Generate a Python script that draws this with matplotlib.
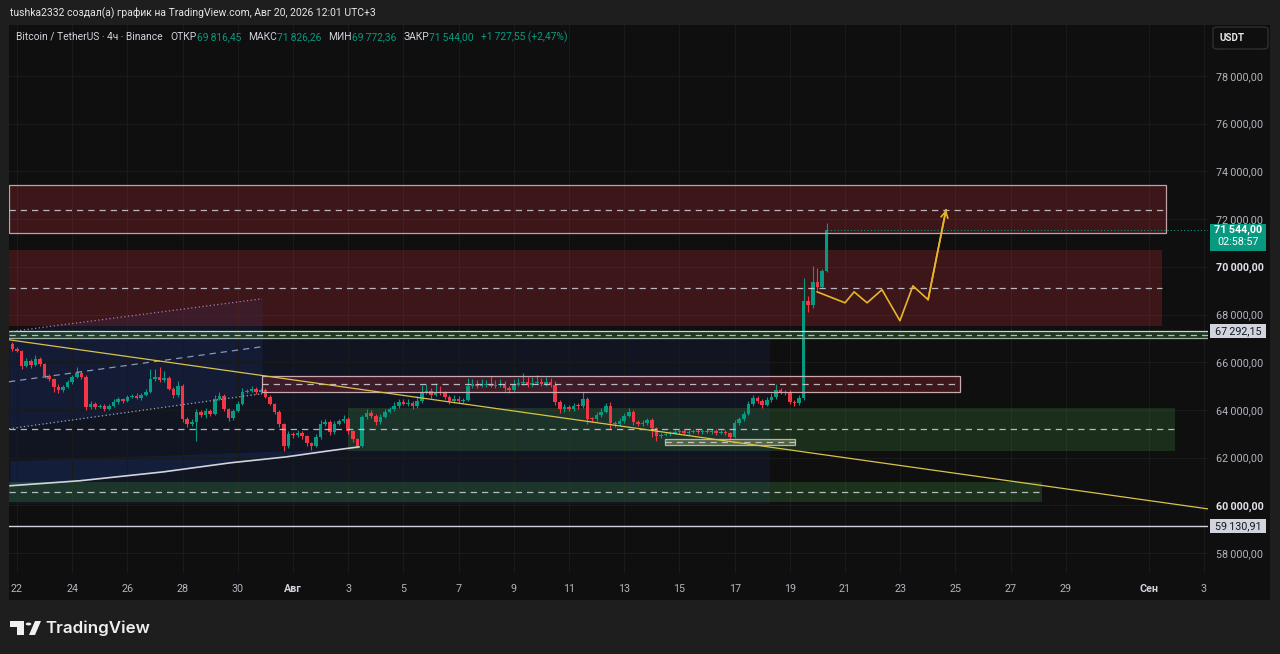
import matplotlib
matplotlib.use("Agg")
import matplotlib.pyplot as plt
import matplotlib.transforms as mtransforms
from matplotlib import font_manager
from matplotlib.patches import Rectangle, Polygon, Circle, FancyBboxPatch
import numpy as np

# ---- candles: BTC/USDT 4h, day 0 = Jul 22 00:00 ---------------------------
first_open = 66770
closes = [
    66560, 66480, 65850, 66060, 65890, 66140, 65930, 65430, 65300, 64970,
    64840, 64970, 65180, 65390, 65560, 65390, 64130, 64260, 64130, 64170,
    64050, 64170, 64340, 64470, 64380, 64550, 64590, 64510, 64630, 64760,
    65300, 65390, 65260, 65350, 64880, 64630, 65010, 63630, 63420, 63500,
    63920, 63790, 63960, 63840, 64470, 64590, 64050, 63670, 63960, 64260,
    64760, 64800, 64880, 64760, 64840, 64550, 64260, 63920, 63420, 62490,
    63000, 62960, 63040, 62910, 62620, 62490, 62870, 63420, 63500, 63080,
    63420, 63540, 63630, 63120, 62790, 62490, 63710, 63880, 63750, 63500,
    63710, 63920, 64050, 64170, 64340, 64260, 64300, 64170, 64380, 64760,
    64800, 64630, 64760, 64720, 64550, 64380, 64470, 64380, 64420, 65010,
    65090, 65010, 65050, 65090, 65010, 65050, 65090, 64930, 64840, 65050,
    65140, 65180, 65050, 65140, 65180, 65090, 65180, 65050, 64340, 64050,
    64130, 64050, 64170, 64150, 64470, 63630, 63610, 63790, 63920, 64170,
    63460, 63420, 63540, 63750, 63920, 63500, 63420, 63460, 63580, 63250,
    62910, 62960, 63000, 63040, 63080, 63120, 63040, 63080, 63120, 63080,
    63120, 63080, 63120, 63040, 63080, 63040, 62870, 63460, 63630, 63840,
    64260, 64510, 64380, 64210, 64420, 64550, 64840, 64720, 64760, 64340,
    64300, 64510, 68570, 68410, 69370, 69160, 69816.45, 71544.00,
]
hi_wick = [
    60, 90, 40, 120, 80, 150, 60, 50, 90, 40, 110, 70, 60, 90, 250, 60, 80, 120, 70, 60,
    90, 60, 110, 80, 50, 90, 60, 100, 70, 120, 420, 330, 400, 300, 90, 60, 200, 80, 60, 100,
    130, 80, 120, 60, 150, 180, 70, 50, 90, 110, 140, 90, 120, 70, 80, 60, 90, 50, 70, 40,
    120, 80, 110, 60, 50, 40, 100, 150, 120, 60, 110, 90, 140, 60, 50, 40, 90, 160, 120, 70,
    110, 130, 90, 150, 120, 100, 140, 80, 200, 300, 280, 120, 350, 260, 80, 90, 140, 110, 100, 330,
    200, 180, 260, 150, 320, 210, 190, 120, 90, 250, 200, 350, 180, 240, 300, 170, 220, 160, 150, 60,
    120, 80, 140, 110, 300, 60, 90, 120, 150, 130, 150, 90, 120, 100, 160, 70, 80, 110, 90, 60,
    50, 80, 60, 90, 70, 100, 60, 80, 90, 70, 60, 80, 100, 70, 90, 60, 50, 120, 90, 110,
    100, 100, 80, 60, 120, 150, 250, 90, 80, 60, 90, 110, 970, 200, 670, 600, 100, 282,
]
lo_wick = [
    80, 60, 150, 70, 120, 60, 90, 100, 80, 200, 150, 90, 60, 80, 70, 90, 150, 100, 80, 60,
    110, 70, 60, 90, 80, 50, 70, 60, 90, 50, 60, 80, 70, 90, 60, 120, 90, 150, 130, 100,
    800, 90, 120, 80, 60, 50, 110, 120, 80, 60, 70, 60, 50, 80, 90, 70, 60, 100, 120, 200,
    100, 120, 80, 110, 150, 180, 60, 70, 90, 120, 80, 60, 70, 110, 150, 100, 60, 80, 90, 120,
    90, 60, 70, 80, 100, 60, 80, 120, 90, 70, 80, 150, 60, 90, 100, 120, 90, 80, 110, 60,
    80, 90, 70, 100, 60, 80, 90, 120, 130, 70, 60, 80, 90, 70, 60, 80, 100, 90, 120, 160,
    140, 90, 110, 100, 70, 200, 130, 80, 90, 60, 250, 140, 100, 80, 60, 120, 90, 100, 80, 400,
    200, 90, 70, 80, 60, 90, 70, 80, 60, 90, 70, 60, 80, 90, 70, 80, 150, 60, 80, 90,
    70, 80, 90, 110, 60, 90, 80, 70, 90, 100, 120, 80, 100, 300, 150, 120, 50, 44,
]
start_day = -1 / 6
step = 1 / 6
countdown = "02:58:57"

tick_days = [0, 2, 4, 6, 8, 10, 12, 14, 16, 18, 20, 22, 24, 26, 28, 30, 32, 34, 36, 38, 41, 43]
tick_labels = ["22", "24", "26", "28", "30", "Авг", "3", "5", "7", "9", "11", "13",
               "15", "17", "19", "21", "23", "25", "27", "29", "Сен", "3"]
price_ticks = list(range(58000, 78001, 2000))

# ---- drawings: (day_from, day_to, price_low, price_high, dashed_level) ----
supply_top = (-0.29, 41.63, 71430, 73440, 72390)
supply_low = (-0.29, 41.49, 67530, 70710, 69120)
band_mid = (-0.29, 43.2, 67000, 67292.15, 67150)
pink_box = (8.88, 34.17, 64760, 65430, 65090)
demand_zone = (12.0, 41.96, 62290, 64090, 63210)
small_box = (23.48, 28.19, 62540, 62790, 62660)
demand_low = (-0.29, 37.14, 60150, 60990, 60570)
support_line = 59130.91
range_box = (-0.29, 27.28, 60060, 66980)

trend_days = [-0.29, 43.15]
trend_prices = [66940, 59850]

channel_days = [-0.29, 8.88]
channel_top = [67275, 68660]
channel_mid = [65180, 66650]
channel_low = [63210, 64680]

curve_days = [-0.25, 2.28, 5.29, 7.72, 9.75, 11.34, 12.39]
curve_prices = [60820, 61030, 61400, 61780, 62030, 62290, 62450]
curve_band_top = [61860, 61990, 62090, 62200, 62280, 62340, 62450]

path_days = [28.99, 30.0, 30.33, 30.80, 31.34, 31.99, 32.46, 33.01, 33.66]
path_prices = [68950, 68490, 68950, 68490, 69040, 67740, 69200, 68620, 72390]

title = "tushka2332 создал(а) график на TradingView.com, Авг 20, 2026 12:01 UTC+3"
symbol = "Bitcoin / TetherUS · 4ч · Binance"
ohlc_keys = ["ОТКР", "МАКС", "МИН", "ЗАКР"]
ohlc_vals = ["69\u2009816,45", "71\u2009826,26", "69\u2009772,36", "71\u2009544,00"]
change = "+1\u2009727,55 (+2,47%)"

# ---- style -----------------------------------------------------------------
UP, DOWN = "#089981", "#f23645"
BG, OUTER = "#0f0f0f", "#1e1e1e"
TXT = "#b2b5be"
DASH = "#d1d4dc"
YEL = "#e8b52a"

names = {f.name for f in font_manager.fontManager.ttflist}
NARROW = "Liberation Sans Narrow" if "Liberation Sans Narrow" in names else "Roboto"
FAM = [NARROW, "DejaVu Sans"]
plt.rcParams["font.family"] = FAM

W, H = 1280, 654


def fx(x):
    return x / W


def fy(y):
    return 1 - y / H


fig = plt.figure(figsize=(W / 100, H / 100), dpi=100, facecolor=OUTER)
renderer = fig.canvas.get_renderer()
fig.patches.append(Rectangle((fx(9), fy(600)), fx(1261), 575 / H, transform=fig.transFigure,
                             facecolor=BG, lw=0, zorder=-5))

ax = fig.add_axes([fx(9), fy(573), fx(1199), 548 / H])
ax.set_facecolor("none")
ax.set_xlim(-0.28986, 43.1522)
ax.set_ylim(57162, 80138)
for s in ax.spines.values():
    s.set_visible(False)


def fit(t, width_px):
    bb = t.get_window_extent(renderer)
    t.set_fontsize(t.get_fontsize() * width_px / bb.width)
    return t


probe = fig.text(0, 0, "78\u2009000,00", fontsize=8)
tick_fs = fit(probe, 47).get_fontsize()
probe.remove()

ax.set_xticks(tick_days, tick_labels)
ax.set_yticks(price_ticks, [f"{p // 1000}\u2009000,00" for p in price_ticks])
ax.yaxis.tick_right()
ax.tick_params(axis="both", length=0, colors=TXT, labelsize=tick_fs)
ax.tick_params(axis="x", pad=8.0)
ax.tick_params(axis="y", pad=6.0)
for lbl in ax.get_xticklabels():
    if lbl.get_text() in ("Авг", "Сен"):
        lbl.set_fontweight("bold")
        lbl.set_color("#d1d4dc")
for lbl in ax.get_yticklabels():
    if lbl.get_text().startswith(("60", "70")):
        lbl.set_color("#e0e3eb")
        lbl.set_fontweight("bold")
ax.grid(True, color="#1a1a1a", lw=0.8, zorder=0)

# ---- background drawings --------------------------------------------------
d0, d1, p0, p1 = range_box
ax.add_patch(Rectangle((d0, p0), d1 - d0, p1 - p0, facecolor="#2962ff", alpha=0.08, lw=0, zorder=1))
ax.fill_between(channel_days, channel_low, channel_top, color="#2962ff", alpha=0.09, lw=0, zorder=1)
ax.fill_between(curve_days, curve_prices, curve_band_top, color="#2962ff", alpha=0.12, lw=0, zorder=1)


def zone(z, face, alpha, edge=None, dash_end=None):
    a, b, lo, hi, mid = z
    ax.add_patch(Rectangle((a, lo), b - a, hi - lo, facecolor=face, alpha=alpha, lw=0, zorder=2))
    if edge:
        ax.add_patch(Rectangle((a, lo), b - a, hi - lo, fill=False, edgecolor=edge, lw=0.9, zorder=6))
    ax.plot([a if dash_end is None else dash_end, b], [mid, mid], color=DASH, alpha=0.85,
            lw=0.9, ls=(0, (5, 4)), zorder=6)


zone(supply_top, "#f23645", 0.2, edge="#bfa3a9")
zone(supply_low, "#f23645", 0.2)
zone(band_mid, "#4caf50", 0.25)
ax.plot(band_mid[:2], [band_mid[3]] * 2, color="#d1d4dc", lw=0.9, zorder=6)
ax.plot(band_mid[:2], [band_mid[2]] * 2, color="#9fb0a0", lw=0.9, zorder=6)
zone(pink_box, "#f23645", 0.2, edge="#c8aab0")
zone(demand_zone, "#4caf50", 0.2, dash_end=-0.29)
zone(demand_low, "#4caf50", 0.22)
zone(small_box, "#d8d890", 0.3, edge="#b8b890")
ax.axhline(support_line, color="#d1d4dc", lw=1.0, zorder=6)

ax.plot(channel_days, channel_top, color="#a57fc4", lw=0.9, ls=(0, (1, 2)), zorder=6)
ax.plot(channel_days, channel_mid, color="#8e96b8", lw=0.9, ls=(0, (5, 4)), zorder=6)
ax.plot(channel_days, channel_low, color="#a0a4b4", lw=0.9, ls=(0, (1, 2)), zorder=6)
ax.plot(curve_days, curve_prices, color="#d1d4dc", lw=1.2, zorder=6)

# ---- candles --------------------------------------------------------------
c = np.array(closes, dtype=float)
o = np.concatenate([[first_open], c[:-1]])
days = start_day + step * np.arange(len(c))
top = np.maximum(o, c)
bot = np.minimum(o, c)
cols = np.where(c >= o, UP, DOWN)
ax.vlines(days, bot - np.array(lo_wick), top + np.array(hi_wick), colors=cols, lw=0.8, zorder=4)
ax.bar(days, np.maximum(top - bot, 40), bottom=bot, width=step * 0.74, color=cols, lw=0, zorder=5)

ax.plot(trend_days, trend_prices, color="#d9c34a", lw=0.9, zorder=7)
ax.plot(path_days, path_prices, color=YEL, lw=1.2, zorder=7)
ax.annotate("", xy=(path_days[-1], path_prices[-1]), xytext=(path_days[-2], path_prices[-2]),
            arrowprops=dict(arrowstyle="->,head_length=0.45,head_width=0.25", color=YEL, lw=1.2,
                            shrinkA=0, shrinkB=0), zorder=7)
ax.plot([days[-1], 43.2], [c[-1]] * 2, color=UP, lw=0.8, ls=(0, (1, 2)), zorder=3)

# ---- price scale labels ---------------------------------------------------
dpp = (80138 - 57162) / 548
blend = mtransforms.blended_transform_factory(ax.transAxes, ax.transData)
bx0, bx1 = (1210 - 9) / 1199, (1266 - 9) / 1199
bxc = (bx0 + bx1) / 2


def scale_label(price, text, face, fg, h_px=14):
    ax.add_patch(Rectangle((bx0, price - h_px / 2 * dpp), bx1 - bx0, h_px * dpp, transform=blend,
                           facecolor=face, lw=0, clip_on=False, zorder=10))
    ax.text(bxc, price, text, transform=blend, ha="center", va="center", color=fg,
            fontsize=tick_fs, clip_on=False, zorder=11)


scale_label(band_mid[3], "67\u2009292,15", "#d1d4dc", "#131722")
scale_label(support_line, "59\u2009130,91", "#d1d4dc", "#131722")
last = c[-1]
ax.add_patch(Rectangle((bx0, last - 21 * dpp), bx1 - bx0, 27 * dpp, transform=blend,
                       facecolor=UP, lw=0, clip_on=False, zorder=10))
ax.text(bxc, last + 0.5 * dpp, f"{int(last) // 1000}\u2009{int(last) % 1000:03d},{round(last * 100) % 100:02d}",
        transform=blend, ha="center", va="center", color="white", fontsize=tick_fs,
        fontweight="bold", clip_on=False, zorder=11)
ax.text(bxc, last - 12.5 * dpp, countdown, transform=blend, ha="center", va="center",
        color="white", fontsize=tick_fs, clip_on=False, zorder=11)

# ---- texts ----------------------------------------------------------------
t = fig.text(fx(10), fy(13), title, color="#e6e6e6", fontsize=8, va="center")
fit(t, 368)

# header line: pieces chained left to right, then scaled to the reference width
pieces = [(symbol, "#d1d4dc", 8)]
for k, v in zip(ohlc_keys, ohlc_vals):
    pieces += [(k, "#d1d4dc", 0), (v, UP, 7)]
pieces.append((change, UP, 0))
hdr = [fig.text(0, fy(37), s, color=col, fontsize=8, va="center") for s, col, _ in pieces]


def chain(fs):
    x = 16
    for txt, (_, _, gap) in zip(hdr, pieces):
        txt.set_fontsize(fs)
        txt.set_x(fx(x))
        x += txt.get_window_extent(renderer).width + gap
    return x - 16


total = chain(8)
chain(8 * (552 - 29) / (total - 29))

fig.patches.append(FancyBboxPatch((fx(1213), fy(49)), fx(55), 22 / H, transform=fig.transFigure,
                                  boxstyle="round,pad=0,rounding_size=0.004", facecolor=BG,
                                  edgecolor="#303030", lw=1.0, zorder=3))
u = fig.text(fx(1220), fy(38), "USDT", color="#e6e6e6", fontsize=8, fontweight="bold", va="center")
fit(u, 25)

# TradingView logo
fig.patches.append(Polygon([(fx(10), fy(621)), (fx(24), fy(621)), (fx(24), fy(635)), (fx(17), fy(635)),
                            (fx(17), fy(627)), (fx(10), fy(627))], closed=True,
                           transform=fig.transFigure, facecolor="#f0f0f0", lw=0))
fig.patches.append(Circle((fx(28.5), fy(624)), 2.8 / W, transform=fig.transFigure,
                          facecolor="#f0f0f0", lw=0))
fig.patches.append(Polygon([(fx(29), fy(635)), (fx(35), fy(635)), (fx(41), fy(621)), (fx(35), fy(621))],
                           closed=True, transform=fig.transFigure, facecolor="#f0f0f0", lw=0))
lg = fig.text(fx(45), fy(628), "TradingView", color="#f0f0f0", fontsize=12,
              family=["Inter", "DejaVu Sans"], fontweight="semibold", va="center")
fit(lg, 105)

fig.savefig("out.png", dpi=100, facecolor=OUTER)
